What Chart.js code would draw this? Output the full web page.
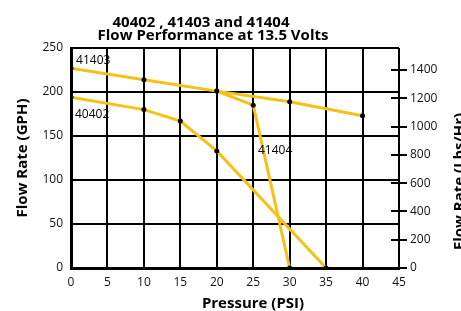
<!DOCTYPE html>
<html>
<head>
<meta charset="utf-8">
<script src="https://cdn.jsdelivr.net/npm/chart.js@4.4.1/dist/chart.umd.min.js"></script>
<style>
  html, body { margin: 0; padding: 0; background: #fff; }
  #wrap { width: 461px; height: 311px; position: relative; }
</style>
</head>
<body>
<div id="wrap"><canvas id="chart"></canvas></div>
<script>
// pressure (PSI) and flow (GPH)
const psi41403 = [0, 10, 20, 30, 40];
const gph41403 = [227, 214, 201, 189, 173];
const psi41404 = [20, 25, 30];
const gph41404 = [201, 185, 0];
const psi40402 = [0, 10, 15, 20, 35];
const gph40402 = [194, 180, 167, 133, 0];

const titleLines = ['40402 , 41403 and 41404', 'Flow Performance at 13.5 Volts'];
const yTitle = 'Flow Rate (GPH)';
const y2Title = 'Flow Rate (Lbs/Hr)';
const xTitle = 'Pressure (PSI)';

const YELLOW = '#f5c116';
const FONT = '"Open Sans", "Noto Sans", sans-serif';

const pts = (xs, ys) => xs.map((x, i) => ({ x, y: ys[i] }));

const series = (label, data) => ({
  label,
  data,
  showLine: true,
  borderColor: YELLOW,
  borderWidth: 3,
  pointRadius: 2.5,
  pointBackgroundColor: '#000',
  pointBorderWidth: 0,
  tension: 0,
});

// curve names, placed in data units
const notes = [
  { text: '41403', x: 0.7, y: 232 },
  { text: '40402', x: 0.55, y: 170.5 },
  { text: '41404', x: 25.65, y: 129.5 },
];

const decor = {
  id: 'decor',
  afterDraw(chart) {
    const { ctx, chartArea, scales } = chart;
    ctx.save();
    ctx.fillStyle = '#000';

    // title
    ctx.font = `bold 15px ${FONT}`;
    ctx.textAlign = 'center';
    ctx.textBaseline = 'alphabetic';
    ctx.fillText(titleLines[0], 201, 27);
    ctx.fillText(titleLines[1], 213, 40);

    // x title
    ctx.fillText(xTitle, 253, 308);

    // left title
    ctx.save();
    ctx.translate(27, 158);
    ctx.rotate(-Math.PI / 2);
    ctx.fillText(yTitle, 0, 0);
    ctx.restore();

    // right title (runs off the canvas edge)
    ctx.save();
    ctx.translate(464, 250);
    ctx.rotate(-Math.PI / 2);
    ctx.textAlign = 'left';
    ctx.fillText(y2Title, 0, 0);
    ctx.restore();

    // right-axis tick marks straddling the frame
    const y2 = scales.y2;
    ctx.strokeStyle = '#000';
    ctx.lineWidth = 2;
    y2.ticks.forEach((t) => {
      const py = Math.round(y2.getPixelForValue(t.value));
      ctx.beginPath();
      ctx.moveTo(chartArea.right - 8, py);
      ctx.lineTo(chartArea.right + 8, py);
      ctx.stroke();
    });

    // curve labels
    ctx.font = `12px ${FONT}`;
    ctx.textAlign = 'left';
    notes.forEach((n) => {
      ctx.fillText(n.text, scales.x.getPixelForValue(n.x), scales.y.getPixelForValue(n.y));
    });
    ctx.restore();
  },
};

const tickFont = { family: FONT, size: 12 };

new Chart(document.getElementById('chart'), {
  type: 'scatter',
  data: {
    datasets: [
      series('41403', pts(psi41403, gph41403)),
      series('41404', pts(psi41404, gph41404)),
      series('40402', pts(psi40402, gph40402)),
    ],
  },
  options: {
    responsive: true,
    maintainAspectRatio: false,
    animation: false,
    layout: { padding: { top: 48, left: 0, right: 0, bottom: 0 } },
    plugins: {
      legend: { display: false },
      tooltip: { enabled: false },
    },
    scales: {
      x: {
        type: 'linear',
        min: 0,
        max: 45,
        ticks: { stepSize: 5, padding: 7, color: '#111', font: tickFont },
        grid: { color: '#000', lineWidth: 2, drawTicks: false },
        border: { display: true, color: '#000', width: 3 },
        afterFit: (s) => { s.height = 43; },
      },
      y: {
        position: 'left',
        min: 0,
        max: 250,
        ticks: { stepSize: 50, padding: 8, color: '#111', font: tickFont },
        grid: { color: '#000', lineWidth: 2, drawTicks: false },
        border: { display: true, color: '#000', width: 3 },
        afterFit: (s) => { s.width = 71; },
      },
      y2: {
        position: 'right',
        min: 0,
        max: 1556,
        ticks: {
          stepSize: 200,
          padding: 11,
          color: '#111',
          font: tickFont,
          callback: (v) => String(v),
        },
        afterBuildTicks: (s) => { s.ticks = s.ticks.filter((t) => t.value % 200 === 0); },
        grid: { display: false, drawTicks: false },
        border: { display: false },
        afterFit: (s) => { s.width = 62; },
      },
    },
  },
  plugins: [decor],
});
</script>
</body>
</html>
